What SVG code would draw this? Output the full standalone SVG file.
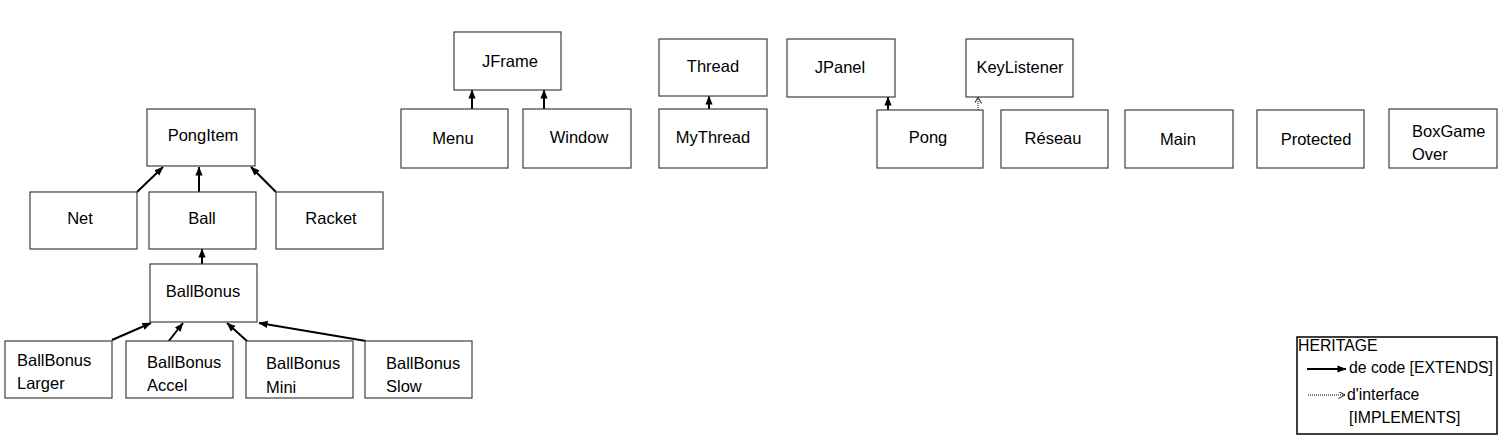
<svg xmlns="http://www.w3.org/2000/svg" width="1501" height="444" viewBox="0 0 1501 444">
<style>
.box{fill:#fff;stroke:#404040;stroke-width:1.2}
.t{font-family:"Liberation Sans",Arial,sans-serif;font-size:16.5px;fill:#000;text-anchor:middle}
.tl{font-family:"Liberation Sans",Arial,sans-serif;font-size:16.5px;fill:#000}
.lg{font-family:"Liberation Sans",Arial,sans-serif;font-size:15.8px;fill:#000}
.ext{stroke:#000;stroke-width:2;fill:none;marker-end:url(#solid)}
.imp{stroke:#000;stroke-width:1;stroke-dasharray:1 1;fill:none;marker-end:url(#open)}
</style>
<defs>
<marker id="solid" viewBox="0 0 10 8" refX="9.5" refY="4" markerWidth="9" markerHeight="8" markerUnits="userSpaceOnUse" orient="auto">
<path d="M0,0 L10,4 L0,8 z" fill="#000"/>
</marker>
<marker id="open" viewBox="0 0 8 8" refX="7.5" refY="4" markerWidth="7" markerHeight="7" markerUnits="userSpaceOnUse" orient="auto">
<path d="M0,0 L7.5,4 L0,8" fill="none" stroke="#000" stroke-width="1"/>
</marker>
</defs>
<rect width="1501" height="444" fill="#fff"/>

<g id="connectors">
<line class="ext" x1="137" y1="192" x2="163" y2="167"/>
<line class="ext" x1="199" y1="192" x2="199" y2="167"/>
<line class="ext" x1="276" y1="192" x2="251" y2="167"/>
<line class="ext" x1="202" y1="264" x2="202" y2="249"/>
<line class="ext" x1="112" y1="340" x2="151" y2="323"/>
<line class="ext" x1="168" y1="342" x2="183" y2="323"/>
<line class="ext" x1="248" y1="342" x2="227" y2="323"/>
<line class="ext" x1="366" y1="341" x2="259" y2="323"/>
<line class="ext" x1="472" y1="109" x2="472" y2="90"/>
<line class="ext" x1="544" y1="109" x2="544" y2="90"/>
<line class="ext" x1="709" y1="109" x2="709" y2="96"/>
<line class="ext" x1="888" y1="110" x2="888" y2="97"/>
<line class="imp" x1="978" y1="110" x2="978" y2="97"/>
</g>

<g id="PongItem"><rect class="box" x="147" y="109" width="108" height="57"/><text class="t" x="203" y="141">PongItem</text></g>
<g id="Net"><rect class="box" x="30" y="192" width="107" height="57"/><text class="t" x="80" y="224">Net</text></g>
<g id="Ball"><rect class="box" x="149" y="192" width="107" height="57"/><text class="t" x="202" y="224">Ball</text></g>
<g id="Racket"><rect class="box" x="276" y="192" width="107" height="57"/><text class="t" x="331" y="224">Racket</text></g>
<g id="BallBonus"><rect class="box" x="150" y="264" width="107" height="58"/><text class="t" x="203" y="297">BallBonus</text></g>
<g id="BallBonusLarger"><rect class="box" x="5" y="341" width="107" height="57"/><text class="tl" x="17" y="366">BallBonus</text><text class="tl" x="17" y="389">Larger</text></g>
<g id="BallBonusAccel"><rect class="box" x="126" y="341" width="107" height="57"/><text class="tl" x="147" y="368">BallBonus</text><text class="tl" x="147" y="391">Accel</text></g>
<g id="BallBonusMini"><rect class="box" x="246" y="341" width="107" height="57"/><text class="tl" x="266" y="369">BallBonus</text><text class="tl" x="266" y="393">Mini</text></g>
<g id="BallBonusSlow"><rect class="box" x="365" y="341" width="107" height="57"/><text class="tl" x="386" y="369">BallBonus</text><text class="tl" x="386" y="392">Slow</text></g>

<g id="JFrame"><rect class="box" x="454" y="32" width="107" height="58"/><text class="t" x="510" y="67">JFrame</text></g>
<g id="Menu"><rect class="box" x="401" y="109" width="107" height="59"/><text class="t" x="453" y="144">Menu</text></g>
<g id="Window"><rect class="box" x="523" y="109" width="108" height="59"/><text class="t" x="579" y="143">Window</text></g>
<g id="Thread"><rect class="box" x="659" y="39" width="108" height="57"/><text class="t" x="713" y="72">Thread</text></g>
<g id="MyThread"><rect class="box" x="659" y="109" width="108" height="59"/><text class="t" x="713" y="143">MyThread</text></g>
<g id="JPanel"><rect class="box" x="787" y="39" width="108" height="58"/><text class="t" x="840" y="73">JPanel</text></g>
<g id="KeyListener"><rect class="box" x="966" y="39" width="107" height="58"/><text class="t" x="1020" y="73">KeyListener</text></g>
<g id="Pong"><rect class="box" x="877" y="110" width="106" height="58"/><text class="t" x="928" y="143">Pong</text></g>
<g id="Reseau"><rect class="box" x="1001" y="110" width="107" height="58"/><text class="t" x="1053" y="144">Réseau</text></g>
<g id="Main"><rect class="box" x="1125" y="110" width="108" height="58"/><text class="t" x="1178" y="145">Main</text></g>
<g id="Protected"><rect class="box" x="1257" y="110" width="107" height="58"/><text class="t" x="1316" y="145">Protected</text></g>
<g id="BoxGameOver"><rect class="box" x="1389" y="109" width="108" height="59"/><text class="tl" x="1412" y="137">BoxGame</text><text class="tl" x="1412" y="160">Over</text></g>

<g id="legend">
<rect x="1297" y="337" width="200" height="97" fill="#fff" stroke="#000" stroke-width="1.5"/>
<text class="lg" x="1298" y="351">HERITAGE</text>
<line class="ext" x1="1307" y1="369" x2="1346" y2="369"/>
<text class="lg" x="1349" y="373">de code [EXTENDS]</text>
<line class="imp" x1="1308" y1="395" x2="1345" y2="395"/>
<text class="lg" x="1347" y="400">d'interface</text>
<text class="lg" x="1349" y="423">[IMPLEMENTS]</text>
</g>
</svg>
